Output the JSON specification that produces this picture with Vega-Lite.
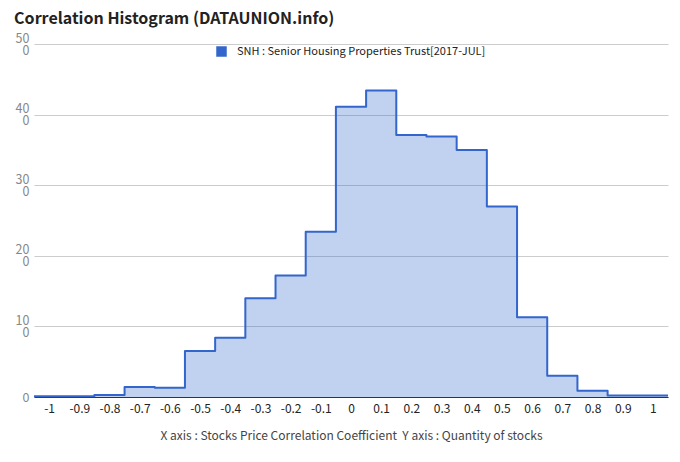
{
  "$schema": "https://vega.github.io/schema/vega-lite/v6.json",
  "width": 634,
  "height": 353,
  "autosize": "none",
  "padding": {"left": 34, "top": 44, "right": 12, "bottom": 65},
  "background": "#ffffff",
  "config": {
    "font": "Noto Sans CJK KR",
    "view": {"stroke": null}
  },
  "title": {
    "text": "Correlation Histogram (DATAUNION.info)",
    "anchor": "start",
    "dx": -1,
    "dy": 29,
    "offset": 21,
    "baseline": "alphabetic",
    "fontSize": 16,
    "fontWeight": "bold",
    "color": "#222222",
    "font": "Noto Sans CJK KR"
  },
  "data": {
    "values": [
      {"bin_start": -1.05, "stocks": 1, "series": "SNH : Senior Housing Properties Trust[2017-JUL]"},
      {"bin_start": -0.95, "stocks": 1, "series": "SNH : Senior Housing Properties Trust[2017-JUL]"},
      {"bin_start": -0.85, "stocks": 3, "series": "SNH : Senior Housing Properties Trust[2017-JUL]"},
      {"bin_start": -0.75, "stocks": 14, "series": "SNH : Senior Housing Properties Trust[2017-JUL]"},
      {"bin_start": -0.65, "stocks": 13, "series": "SNH : Senior Housing Properties Trust[2017-JUL]"},
      {"bin_start": -0.55, "stocks": 65, "series": "SNH : Senior Housing Properties Trust[2017-JUL]"},
      {"bin_start": -0.45, "stocks": 84, "series": "SNH : Senior Housing Properties Trust[2017-JUL]"},
      {"bin_start": -0.35, "stocks": 140, "series": "SNH : Senior Housing Properties Trust[2017-JUL]"},
      {"bin_start": -0.25, "stocks": 172, "series": "SNH : Senior Housing Properties Trust[2017-JUL]"},
      {"bin_start": -0.15, "stocks": 234, "series": "SNH : Senior Housing Properties Trust[2017-JUL]"},
      {"bin_start": -0.05, "stocks": 411, "series": "SNH : Senior Housing Properties Trust[2017-JUL]"},
      {"bin_start": 0.05, "stocks": 434, "series": "SNH : Senior Housing Properties Trust[2017-JUL]"},
      {"bin_start": 0.15, "stocks": 371, "series": "SNH : Senior Housing Properties Trust[2017-JUL]"},
      {"bin_start": 0.25, "stocks": 369, "series": "SNH : Senior Housing Properties Trust[2017-JUL]"},
      {"bin_start": 0.35, "stocks": 350, "series": "SNH : Senior Housing Properties Trust[2017-JUL]"},
      {"bin_start": 0.45, "stocks": 270, "series": "SNH : Senior Housing Properties Trust[2017-JUL]"},
      {"bin_start": 0.55, "stocks": 113, "series": "SNH : Senior Housing Properties Trust[2017-JUL]"},
      {"bin_start": 0.65, "stocks": 30, "series": "SNH : Senior Housing Properties Trust[2017-JUL]"},
      {"bin_start": 0.75, "stocks": 9, "series": "SNH : Senior Housing Properties Trust[2017-JUL]"},
      {"bin_start": 0.85, "stocks": 2, "series": "SNH : Senior Housing Properties Trust[2017-JUL]"},
      {"bin_start": 0.95, "stocks": 2, "series": "SNH : Senior Housing Properties Trust[2017-JUL]"},
      {"bin_start": 1.05, "stocks": 2, "series": "SNH : Senior Housing Properties Trust[2017-JUL]"}
    ]
  },
  "mark": {
    "type": "area",
    "interpolate": "step-after",
    "fillOpacity": 0.3,
    "line": {"color": "#3366cc", "strokeWidth": 2, "strokeJoin": "round"}
  },
  "encoding": {
    "x": {
      "field": "bin_start",
      "type": "quantitative",
      "scale": {"domain": [-1.05, 1.05], "nice": false, "zero": false},
      "axis": {
        "values": [-1, -0.9, -0.8, -0.7, -0.6, -0.5, -0.4, -0.3, -0.2, -0.1, 0, 0.1, 0.2, 0.3, 0.4, 0.5, 0.6, 0.7, 0.8, 0.9, 1],
        "labelExpr": "datum.value + ''",
        "grid": false,
        "ticks": false,
        "domain": true,
        "domainColor": "#333333",
        "domainWidth": 1,
        "labelColor": "#222222",
        "labelFontSize": 12,
        "labelPadding": 6,
        "labelFlush": false,
        "labelOverlap": false,
        "title": "X axis : Stocks Price Correlation Coefficient \u00a0Y axis : Quantity of stocks",
        "titleColor": "#444444",
        "titleFontSize": 12,
        "titleFontWeight": "normal",
        "titlePadding": 16
      }
    },
    "y": {
      "field": "stocks",
      "type": "quantitative",
      "scale": {"domain": [0, 500], "nice": false},
      "axis": {
        "values": [0, 100, 200, 300, 400, 500],
        "labelExpr": "datum.value == 0 ? '0' : [toString(datum.value / 10), '0']",
        "labelOffset": {"condition": {"test": "datum.value == 0", "value": 0}, "value": -6},
        "grid": true,
        "gridColor": "#cccccc",
        "ticks": false,
        "domain": false,
        "labelColor": "#888888",
        "labelFontSize": 12.5,
        "labelLineHeight": 12,
        "labelPadding": 5,
        "title": null
      }
    },
    "color": {
      "field": "series",
      "type": "nominal",
      "scale": {"range": ["#3366cc"]},
      "legend": {
        "orient": "none",
        "legendX": 182,
        "legendY": 2,
        "title": null,
        "symbolType": "square",
        "symbolSize": 110,
        "symbolOpacity": 1,
        "symbolStrokeWidth": 0,
        "labelFontSize": 11,
        "labelLimit": 0,
        "labelColor": "#222222",
        "labelOffset": 10
      }
    }
  }
}
